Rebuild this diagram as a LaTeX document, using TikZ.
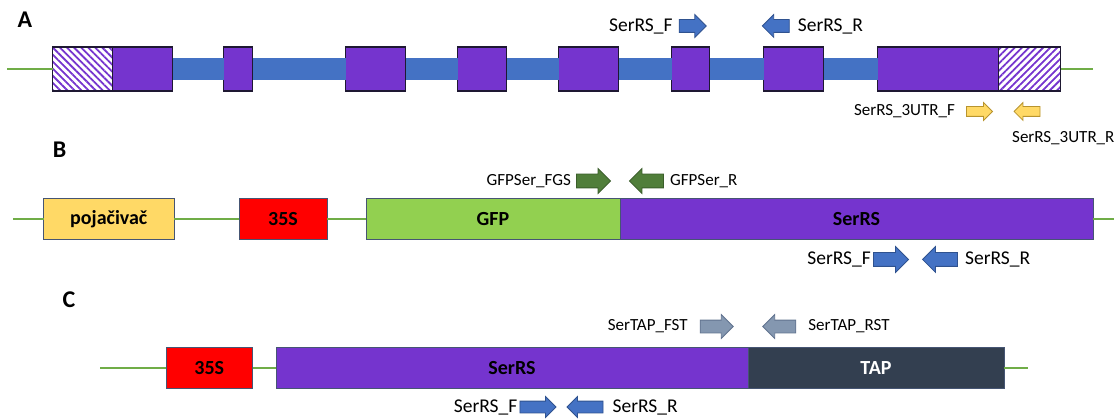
\documentclass[tikz,border=0pt]{standalone}
\usepackage{fontspec}
\setmainfont{Carlito}
\usepackage{tikz}
\usetikzlibrary{positioning,shapes.arrows,patterns.meta}

\definecolor{exonpurple}{RGB}{117,52,206}
\definecolor{exonedge}{RGB}{30,24,50}
\definecolor{boxedge}{RGB}{70,85,115}
\definecolor{intronblue}{HTML}{4472C4}
\definecolor{primerblue}{HTML}{4472C4}
\definecolor{primerblueedge}{HTML}{2F528F}
\definecolor{primergreen}{HTML}{507E3A}
\definecolor{primergreenedge}{HTML}{3A5E2A}
\definecolor{primeryellow}{HTML}{FFD966}
\definecolor{primeryellowedge}{HTML}{B8942E}
\definecolor{primergray}{HTML}{8497B0}
\definecolor{primergrayedge}{HTML}{61738F}
\definecolor{dnagreen}{HTML}{70AD47}
\definecolor{enhyellow}{HTML}{FFD966}
\definecolor{gfpgreen}{HTML}{92D050}
\definecolor{tapdark}{HTML}{333F50}

\tikzset{
    panel/.style={font=\fontsize{24}{27}\selectfont\bfseries, inner sep=0pt},
    exon/.style={draw=exonedge, line width=1.2pt, fill=exonpurple, minimum height=44pt, minimum width=#1, inner sep=0pt, outer sep=0pt},
    utr/.style={draw=exonedge, line width=1.2pt, minimum height=44pt, minimum width=#1, inner sep=0pt, outer sep=0pt, pattern color=exonpurple},
    intron/.style={draw=intronblue, line width=22pt},
    dna/.style={draw=dnagreen, line width=1.5pt},
    part/.style={draw=boxedge, line width=0.8pt, minimum height=41pt, minimum width=#1, inner sep=0pt, outer sep=0pt, font=\fontsize{20}{24}\selectfont\bfseries},
    primer/.style={shape=single arrow, single arrow tip angle=90, inner xsep=0pt, minimum width=0pt, line width=0.8pt},
    arrowsize/.style n args={3}{minimum height=#1, inner ysep=#2, single arrow head extend=#3},
    sprimer/.style={primer, fill=primerblue, draw=primerblueedge},
    gprimer/.style={primer, fill=primergreen, draw=primergreenedge},
    yprimer/.style={primer, fill=primeryellow, draw=primeryellowedge},
    tprimer/.style={primer, fill=primergray, draw=primergrayedge},
    rev/.style={shape border rotate=180},
    lab/.style={inner sep=0pt, font=\fontsize{17}{20}\selectfont},
    biglab/.style={inner sep=0pt, font=\fontsize{19.5}{22}\selectfont}
}

\begin{document}
\begin{tikzpicture}[x=1pt,y=-1pt]
            \useasboundingbox (0,0) rectangle (1115,419);

            \node[panel] (A) at (25,20) {A};
            \node[panel] (B) at (59.5,150) {B};
            \node[panel] (C) at (69,300) {C};

            \coordinate (startA) at (7,69);
            \coordinate (endA) at (1093,69);
            \node[utr=60pt, anchor=west, pattern={Lines[angle=-45,distance=5pt,line width=1.8pt]}] (utr5) at (52.5,69) {};
            \node[exon=60pt] (e1) [right=0pt of utr5] {};
            \node[exon=29pt] (e2) [right=51pt of e1] {};
            \node[exon=60pt] (e3) [right=93pt of e2] {};
            \node[exon=49pt] (e4) [right=52pt of e3] {};
            \node[exon=60pt] (e5) [right=52pt of e4] {};
            \node[exon=38pt] (e6) [right=53pt of e5] {};
            \node[exon=60pt] (e7) [right=54pt of e6] {};
            \node[exon=121pt] (e8) [right=54pt of e7] {};
            \node[utr=62pt, pattern={Lines[angle=45,distance=5pt,line width=1.8pt]}] (utr3) [right=0pt of e8] {};
            \path[intron]
                (e1) edge (e2)
                (e2) edge (e3)
                (e3) edge (e4)
                (e4) edge (e5)
                (e5) edge (e6)
                (e6) edge (e7)
                (e7) edge (e8);
            \draw[dna] (startA) -- (utr5);
            \draw[dna] (utr3) -- (endA);

            \node[sprimer, arrowsize={27pt}{6pt}{5pt}] (sFA) at (689.5,26) {};
            \node[sprimer, rev, arrowsize={27pt}{6pt}{5pt}] (sRA) at (779,26) {};
            \node[biglab] (sFAlab) [left=6pt of sFA] {SerRS\_F};
            \node[biglab] (sRAlab) [right=8pt of sRA] {SerRS\_R};
            \node[yprimer, arrowsize={26pt}{4.5pt}{4pt}] (uF) at (977,111.5) {};
            \node[yprimer, rev, arrowsize={26pt}{4.5pt}{4pt}] (uR) at (1029.5,111.5) {};
            \node[lab] (uFlab) [left=11pt of uF] {SerRS\_3UTR\_F};
            \node[lab, anchor=west] (uRlab) at (1012,138) {SerRS\_3UTR\_R};

            \coordinate (startB) at (13,219);
            \coordinate (endB) at (1114,219);
            \node[part=130.5pt, fill=enhyellow, anchor=west] (enh) at (43.5,219) {pojačivač};
            \node[part=88pt, fill=red] (p35B) [right=65pt of enh] {35S};
            \node[part=254pt, fill=gfpgreen] (gfp) [right=39pt of p35B] {GFP};
            \node[part=473pt, fill=exonpurple] (serB) [right=0pt of gfp] {SerRS};
            \draw[dna] (startB) -- (enh);
            \draw[dna] (enh) -- (p35B);
            \draw[dna] (p35B) -- (gfp);
            \draw[dna] (serB) -- (endB);

            \node[gprimer, arrowsize={34pt}{6.5pt}{5.5pt}] (gF) at (590,181) {};
            \node[gprimer, rev, arrowsize={34pt}{6.5pt}{5.5pt}] (gR) at (650,181) {};
            \node[lab] (gFlab) [left=5pt of gF] {GFPSer\_FGS};
            \node[lab] (gRlab) [right=6pt of gR] {GFPSer\_R};
            \node[sprimer, arrowsize={35pt}{6.5pt}{6pt}] (sFB) at (887.5,259.5) {};
            \node[sprimer, rev, arrowsize={35pt}{6.5pt}{6pt}] (sRB) at (943.5,259.5) {};
            \node[biglab] (sFBlab) [left=2pt of sFB] {SerRS\_F};
            \node[biglab] (sRBlab) [right=7pt of sRB] {SerRS\_R};

            \coordinate (startC) at (100,368);
            \coordinate (endC) at (1028,368);
            \node[part=86.5pt, fill=red, anchor=west] (p35C) at (166,368) {35S};
            \node[part=472pt, fill=exonpurple] (serC) [right=23.5pt of p35C] {SerRS};
            \node[part=256pt, fill=tapdark, text=white] (tap) [right=0pt of serC] {TAP};
            \draw[dna] (startC) -- (p35C);
            \draw[dna] (p35C) -- (serC);
            \draw[dna] (tap) -- (endC);

            \node[tprimer, arrowsize={33pt}{6pt}{5.5pt}] (tF) at (713.5,326.5) {};
            \node[tprimer, rev, arrowsize={33pt}{6pt}{5.5pt}] (tR) at (782.5,326.5) {};
            \node[lab] (tFlab) [left=12pt of tF] {SerTAP\_FST};
            \node[lab] (tRlab) [right=12pt of tR] {SerTAP\_RST};
            \node[sprimer, arrowsize={36pt}{5.5pt}{4.5pt}] (sFC) at (535,407) {};
            \node[sprimer, rev, arrowsize={36pt}{5.5pt}{4.5pt}] (sRC) at (588,407) {};
            \node[biglab] (sFClab) [left=2pt of sFC] {SerRS\_F};
            \node[biglab] (sRClab) [right=9pt of sRC] {SerRS\_R};
\end{tikzpicture}
\end{document}
